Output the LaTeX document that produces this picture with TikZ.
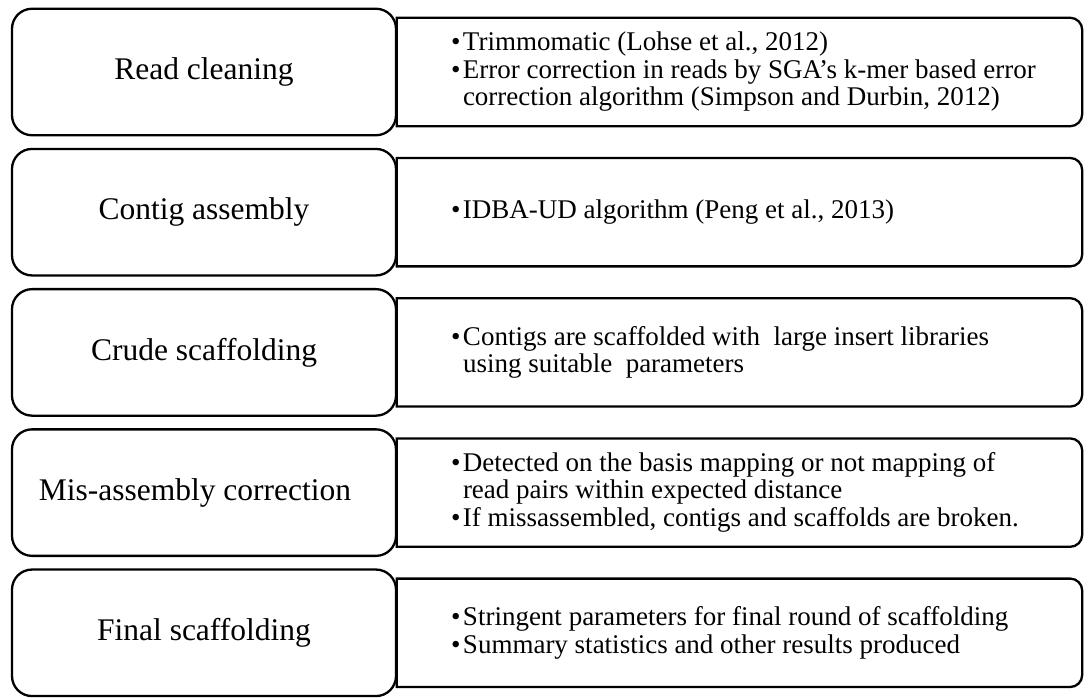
\documentclass[tikz,border=0pt]{standalone}
\usepackage{fontspec}
\setmainfont{Liberation Serif}
\usetikzlibrary{positioning}

\tikzset{
  stage/.style={draw, line width=2.3pt, rounded corners=20pt, fill=white,
    minimum width=384pt, minimum height=126.5pt, inner sep=0pt,
    font=\fontsize{31.5}{36}\selectfont},
  panel/.style={minimum width=685pt, minimum height=108pt, inner sep=0pt},
  points/.style={inner sep=0pt, align=left, font=\fontsize{27}{27}\selectfont},
  frame/.style={line width=2.3pt}
}
\newcommand{\bitem}{\makebox[12pt][l]{\textbullet}}
\newcommand{\cont}{\hspace*{12pt}}

\begin{document}
\begin{tikzpicture}[x=1pt,y=1pt]
  \fill[white] (0,0) rectangle (1085,697);
  \foreach \i/\lbl/\txt in {
    0/{Read cleaning}/{\bitem Trimmomatic (Lohse et al., 2012)\\[1pt]\bitem Error correction in reads by SGA’s k-mer based error\\\cont correction algorithm (Simpson and Durbin, 2012)},
    1/{Contig assembly}/{\bitem IDBA-UD algorithm (Peng et al., 2013)},
    2/{Crude scaffolding}/{\bitem Contigs are scaffolded with \ large insert libraries\\\cont using suitable \ parameters},
    3/{Mis-assembly correction\hspace*{18pt}}/{\bitem Detected on the basis mapping or not mapping of\\\cont read pairs within expected distance\\[1pt]\bitem If missassembled, contigs and scaffolds are broken.},
    4/{Final scaffolding}/{\bitem Stringent parameters for final round of scaffolding\\[1pt]\bitem Summary statistics and other results produced}} {
    \node[panel] (info\i) at (739.5,{625-140.2*\i}) {};
    \draw[frame] (info\i.north west) -- ([xshift=-12pt]info\i.north east)
      arc[start angle=90,end angle=0,radius=12pt] -- ([yshift=12pt]info\i.south east)
      arc[start angle=0,end angle=-90,radius=12pt] -- (info\i.south west) -- cycle;
    \node[stage] (stage\i) at (204,{625-140.2*\i}) {\lbl};
    \node[points, right=54pt of info\i.west] (txt\i) {\txt};
  }
\end{tikzpicture}
\end{document}
